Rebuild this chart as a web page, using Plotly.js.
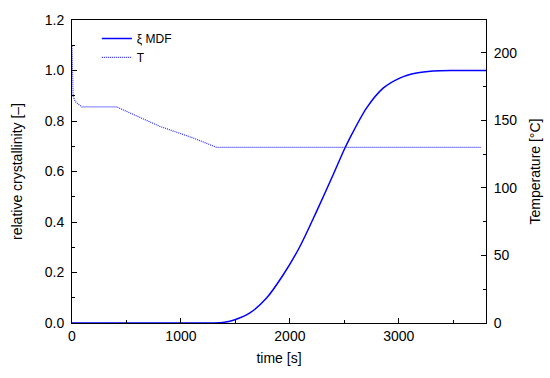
<!DOCTYPE html>
<html>
<head>
<meta charset="utf-8">
<script src="https://cdn.plot.ly/plotly-3.0.1.min.js"></script>
<style>html,body{margin:0;padding:0;background:#fff;}#chart{width:550px;height:378px;}</style>
</head>
<body>
<div id="chart"></div>
<script>
// ξ MDF (relative crystallinity) vs time
const xiTime = [0, 1200, 1300, 1400, 1495, 1633, 1786, 1939, 2092, 2245, 2397, 2498, 2550, 2703, 2856, 3009, 3162, 3315, 3500, 3800];
const xiValue = [0, 0, 0, 0.003, 0.013, 0.04, 0.099, 0.191, 0.303, 0.442, 0.587, 0.686, 0.732, 0.851, 0.930, 0.970, 0.990, 0.998, 1.0, 1.0];
// Temperature vs time
const tTime = [0, 10, 30, 90, 410, 807, 1113, 1330, 3750];
const tValue = [205, 168, 164, 160, 160, 145.6, 137, 130, 130];

const font = {family: 'Arial, "Liberation Sans", sans-serif', size: 14, color: '#000'};

const traces = [
  {x: xiTime, y: xiValue, name: 'ξ MDF', type: 'scatter', mode: 'lines',
   line: {color: '#0000ff', width: 1.5, shape: 'spline', smoothing: 0.8}, yaxis: 'y'},
  {x: tTime, y: tValue, name: 'T', type: 'scatter', mode: 'lines',
   line: {color: '#2a2aff', width: 1.2, dash: '1px,1px'}, yaxis: 'y2'}
];

const layout = {
  width: 550, height: 378,
  margin: {l: 72, r: 64, t: 20, b: 55},
  paper_bgcolor: '#fff', plot_bgcolor: '#fff',
  font: font,
  showlegend: true,
  legend: {x: 0.06, y: 0.987, xanchor: 'left', yanchor: 'top', bgcolor: 'rgba(0,0,0,0)',
           font: {family: font.family, size: 12}, itemwidth: 30, tracegroupgap: 0},
  xaxis: {
    range: [0, 3800], dtick: 1000, tick0: 0,
    showgrid: false, zeroline: false,
    showline: true, linecolor: '#000', linewidth: 1, mirror: true,
    ticks: 'inside', ticklen: 5, tickcolor: '#000',
    minor: {dtick: 500, ticks: 'inside', ticklen: 3, tickcolor: '#000'},
    title: {text: 'time [s]', font: font, standoff: 10}
  },
  yaxis: {
    range: [0, 1.2], dtick: 0.2, tick0: 0, tickformat: '.1f',
    showgrid: false, zeroline: false,
    showline: true, linecolor: '#000', linewidth: 1,
    ticks: 'inside', ticklen: 5, tickcolor: '#000', ticklabelstandoff: 4,
    minor: {dtick: 0.1, ticks: 'inside', ticklen: 3, tickcolor: '#000'},
    title: {text: 'relative crystallinity [–]', font: font, standoff: 18}
  },
  yaxis2: {
    overlaying: 'y', side: 'right',
    range: [0, 224.4], dtick: 50, tick0: 0,
    showgrid: false, zeroline: false,
    showline: true, linecolor: '#000', linewidth: 1,
    ticks: 'inside', ticklen: 5, tickcolor: '#000', ticklabelstandoff: 4,
    minor: {dtick: 25, ticks: 'inside', ticklen: 3, tickcolor: '#000'},
    title: {text: 'Temperature [°C]', font: font, standoff: 13}
  }
};

Plotly.newPlot('chart', traces, layout, {displayModeBar: false, staticPlot: true});
</script>
</body>
</html>
